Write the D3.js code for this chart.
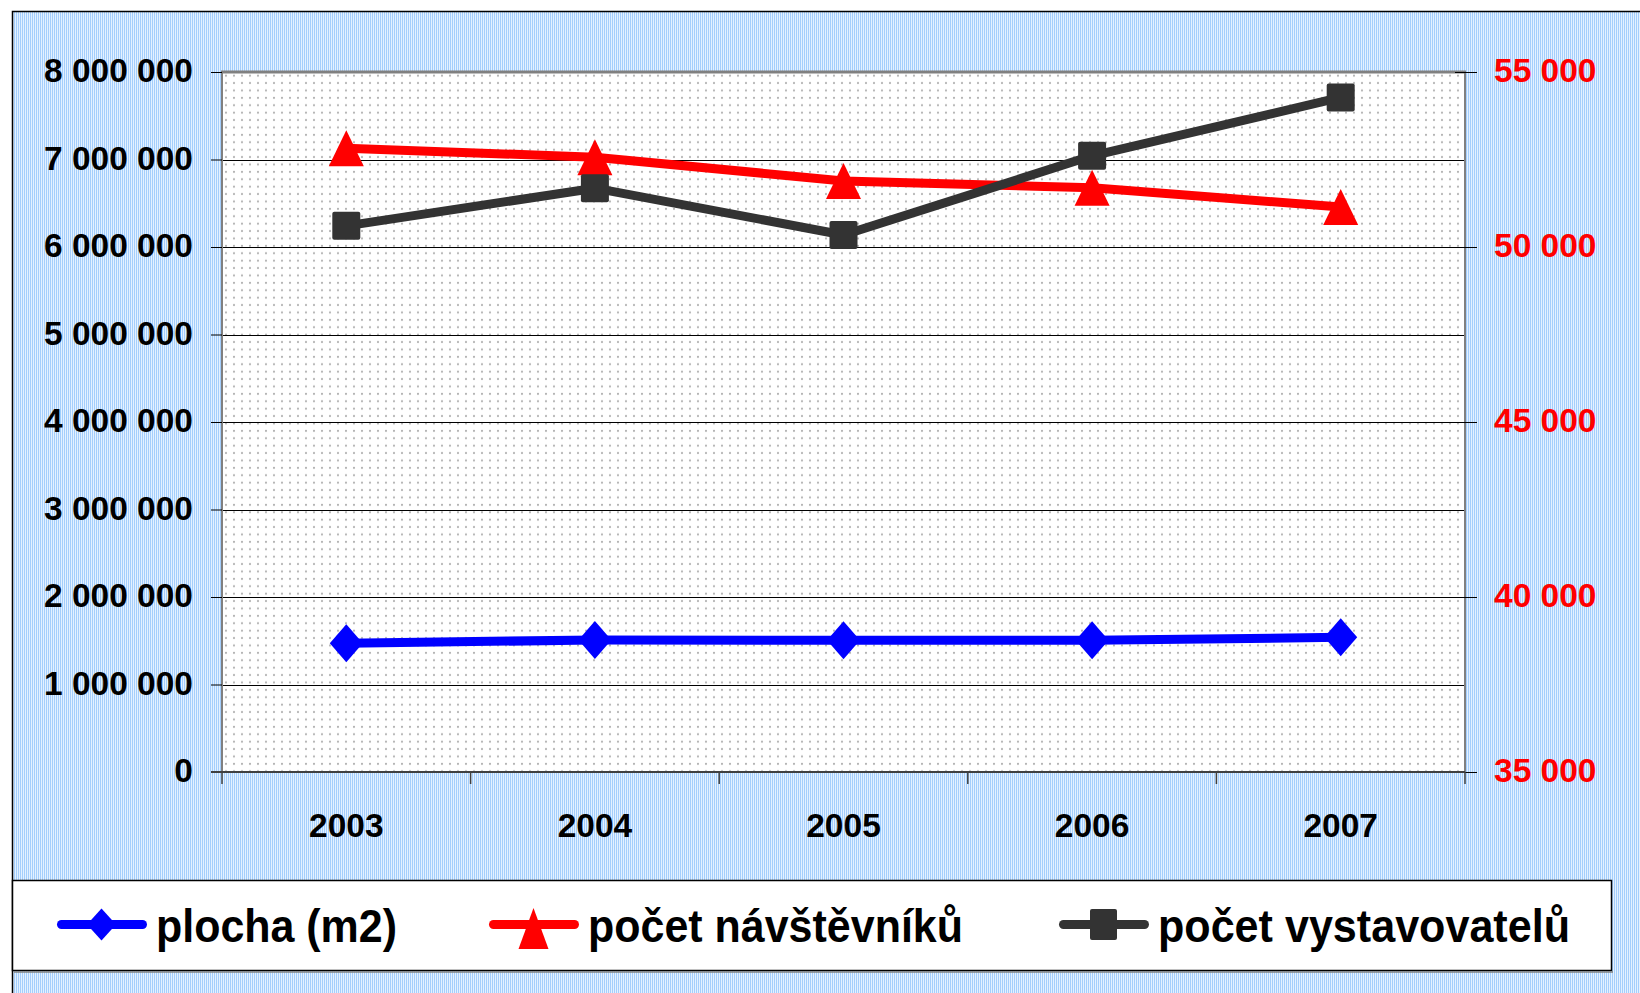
<!DOCTYPE html>
<html>
<head>
<meta charset="utf-8">
<script src="https://cdn.jsdelivr.net/npm/d3@7"></script>
<style>
  html, body { margin: 0; padding: 0; background: #fff; }
  svg { display: block; }
  text { font-family: "Liberation Sans", Arial, sans-serif; font-weight: bold; }
</style>
</head>
<body>
<svg id="chart" width="1640" height="993"></svg>
<script>
// Years on the category axis
const years = ["2003", "2004", "2005", "2006", "2007"];

// Series values
const plocha = [1471000, 1509000, 1505000, 1505000, 1539000];        // left axis
const navstevnici = [52820, 52566, 51886, 51691, 51143];             // right axis
const vystavovatele = [6242000, 6672000, 6137000, 7042000, 7709000]; // left axis

// Axis ticks
const leftTicks = [0, 1000000, 2000000, 3000000, 4000000, 5000000, 6000000, 7000000, 8000000];
const rightTicks = [35000, 40000, 45000, 50000, 55000];

// Legend labels
const seriesNames = ["plocha (m2)", "počet návštěvníků", "počet vystavovatelů"];

const svg = d3.select("#chart");
const W = 1640, H = 993;
const plot = { left: 222, right: 1465, top: 72, bottom: 772 };

const cz = d3.formatLocale({ decimal: ",", thousands: " ", grouping: [3], currency: ["", ""] });
const fmt = cz.format(",d");

const x = d3.scaleBand().domain(years).range([plot.left, plot.right]).paddingInner(0).paddingOuter(0);
const yL = d3.scaleLinear().domain([0, 8000000]).range([plot.bottom, plot.top]);
const yR = d3.scaleLinear().domain([35000, 55000]).range([plot.bottom, plot.top]);

// ---- patterns
const defs = svg.append("defs");
const stripes = defs.append("pattern").attr("id", "stripes")
  .attr("patternUnits", "userSpaceOnUse").attr("width", 2).attr("height", 10);
stripes.append("rect").attr("width", 2).attr("height", 10).attr("fill", "#e4f1ff");
stripes.append("rect").attr("width", 1).attr("height", 10).attr("fill", "#a4cefc");

const dots = defs.append("pattern").attr("id", "dots")
  .attr("patternUnits", "userSpaceOnUse").attr("width", 8).attr("height", 7.4)
  .attr("x", plot.left).attr("y", plot.top);
dots.append("rect").attr("width", 8).attr("height", 7.4).attr("fill", "#ffffff");
dots.append("circle").attr("cx", 4).attr("cy", 3.7).attr("r", 1.05).attr("fill", "#b0b0b0");

// ---- outer chart area
svg.append("rect").attr("x", 0).attr("y", 0).attr("width", W).attr("height", H).attr("fill", "#fff");
svg.append("rect").attr("x", 12.5).attr("y", 11.5).attr("width", W + 20).attr("height", H + 20)
  .attr("fill", "url(#stripes)").attr("stroke", "#000").attr("stroke-width", 1.5);

// ---- plot area
svg.append("rect").attr("x", plot.left).attr("y", plot.top)
  .attr("width", plot.right - plot.left).attr("height", plot.bottom - plot.top)
  .attr("fill", "url(#dots)");

// gridlines (left axis)
svg.append("g").selectAll("line").data(leftTicks.filter(d => d > 0 && d < 8000000)).join("line")
  .attr("x1", plot.left).attr("x2", plot.right)
  .attr("y1", d => Math.round(yL(d)) + 0.5).attr("y2", d => Math.round(yL(d)) + 0.5)
  .attr("stroke", "#000").attr("stroke-width", 1);

// plot frame
svg.append("line").attr("x1", plot.left - 1).attr("x2", plot.right + 1)
  .attr("y1", plot.top).attr("y2", plot.top).attr("stroke", "#808080").attr("stroke-width", 3);
svg.append("line").attr("x1", plot.left).attr("x2", plot.left)
  .attr("y1", plot.top).attr("y2", plot.bottom).attr("stroke", "#808080").attr("stroke-width", 2);
svg.append("line").attr("x1", plot.right).attr("x2", plot.right)
  .attr("y1", plot.top).attr("y2", plot.bottom).attr("stroke", "#808080").attr("stroke-width", 2);

// ---- left axis
const axL = svg.append("g").attr("transform", `translate(${plot.left},0)`)
  .call(d3.axisLeft(yL).tickValues(leftTicks).tickSize(11).tickPadding(18).tickFormat(fmt));
axL.select(".domain").remove();
axL.selectAll(".tick line").attr("stroke", "#000").attr("stroke-width", 1);
axL.selectAll(".tick text").attr("font-size", "33.5px").attr("fill", "#000").attr("dy", "0.29em");

// ---- right axis
const axR = svg.append("g").attr("transform", `translate(${plot.right - 10},0)`)
  .call(d3.axisRight(yR).tickValues(rightTicks).tickSize(22).tickPadding(17).tickFormat(fmt));
axR.select(".domain").remove();
axR.selectAll(".tick line").attr("stroke", "#000").attr("stroke-width", 1);
axR.selectAll(".tick text").attr("font-size", "33.5px").attr("fill", "#ff0000").attr("dy", "0.29em");

// ---- category axis
svg.append("line").attr("x1", plot.left - 11).attr("x2", plot.right)
  .attr("y1", plot.bottom).attr("y2", plot.bottom).attr("stroke", "#404040").attr("stroke-width", 2);
const bounds = years.map(d => x(d)).concat([x(years[years.length - 1]) + x.bandwidth()]);
svg.append("g").selectAll("line").data(bounds).join("line")
  .attr("x1", d => d).attr("x2", d => d)
  .attr("y1", plot.bottom).attr("y2", plot.bottom + 12)
  .attr("stroke", "#404040").attr("stroke-width", 1.5);
const axX = svg.append("g").attr("transform", `translate(0,${plot.bottom})`)
  .call(d3.axisBottom(x).tickSize(0).tickPadding(41));
axX.select(".domain").remove();
axX.selectAll(".tick text").attr("font-size", "33.5px").attr("fill", "#000");

// ---- markers
function diamond(w, h) {
  return `M0,${-h / 2}L${w / 2},0L0,${h / 2}L${-w / 2},0Z`;
}
function triangle(w, h) {
  return `M0,${-h / 2}L${w / 2},${h / 2}L${-w / 2},${h / 2}Z`;
}

const cx = d => x(d) + x.bandwidth() / 2;
const series = [
  { name: seriesNames[0], values: plocha, y: yL, color: "#0000ff", shape: "diamond" },
  { name: seriesNames[1], values: navstevnici, y: yR, color: "#ff0000", shape: "triangle" },
  { name: seriesNames[2], values: vystavovatele, y: yL, color: "#333333", shape: "square" }
];

function drawMarker(g, shape, color, px, py, legend) {
  if (shape === "diamond") {
    g.append("path").attr("d", legend ? diamond(29, 32) : diamond(33, 38))
      .attr("transform", `translate(${px},${py})`).attr("fill", color);
  } else if (shape === "triangle") {
    g.append("path").attr("d", legend ? triangle(30, 41) : triangle(35, 36))
      .attr("transform", `translate(${px},${py})`).attr("fill", color);
  } else {
    const w = legend ? 27 : 28, h = legend ? 31 : 28;
    g.append("rect").attr("x", px - w / 2).attr("y", py - h / 2)
      .attr("width", w).attr("height", h).attr("rx", 2).attr("fill", color);
  }
}

const marks = svg.append("g");
series.forEach(s => {
  const line = d3.line().x((v, i) => cx(years[i])).y(v => s.y(v));
  marks.append("path").datum(s.values).attr("d", line)
    .attr("fill", "none").attr("stroke", s.color).attr("stroke-width", 9)
    .attr("stroke-linejoin", "round");
  s.values.forEach((v, i) => drawMarker(marks, s.shape, s.color, cx(years[i]), s.y(v), false));
});

// ---- legend
const lg = svg.append("g");
lg.append("rect").attr("x", 12.5).attr("y", 880.5).attr("width", 1599).attr("height", 90)
  .attr("fill", "#fff").attr("stroke", "#000").attr("stroke-width", 1.5);
lg.append("line").attr("x1", 14).attr("x2", 1613).attr("y1", 972).attr("y2", 972)
  .attr("stroke", "#808080").attr("stroke-width", 1.5);

const legendX = [57, 489, 1059];
const legendTextW = [241, 375, 412];
series.forEach((s, i) => {
  const x0 = legendX[i], ly = 924.5;
  lg.append("line").attr("x1", x0 + 4.5).attr("x2", x0 + 85.5).attr("y1", ly).attr("y2", ly)
    .attr("stroke", s.color).attr("stroke-width", 9).attr("stroke-linecap", "round");
  drawMarker(lg, s.shape, s.color, x0 + 44.5, ly + (s.shape === "triangle" ? 4 : 0), true);
  lg.append("text").attr("x", x0 + 99).attr("y", 941.5)
    .attr("font-size", "47px").attr("fill", "#000")
    .attr("textLength", legendTextW[i]).attr("lengthAdjust", "spacingAndGlyphs")
    .text(s.name);
});
</script>
</body>
</html>
